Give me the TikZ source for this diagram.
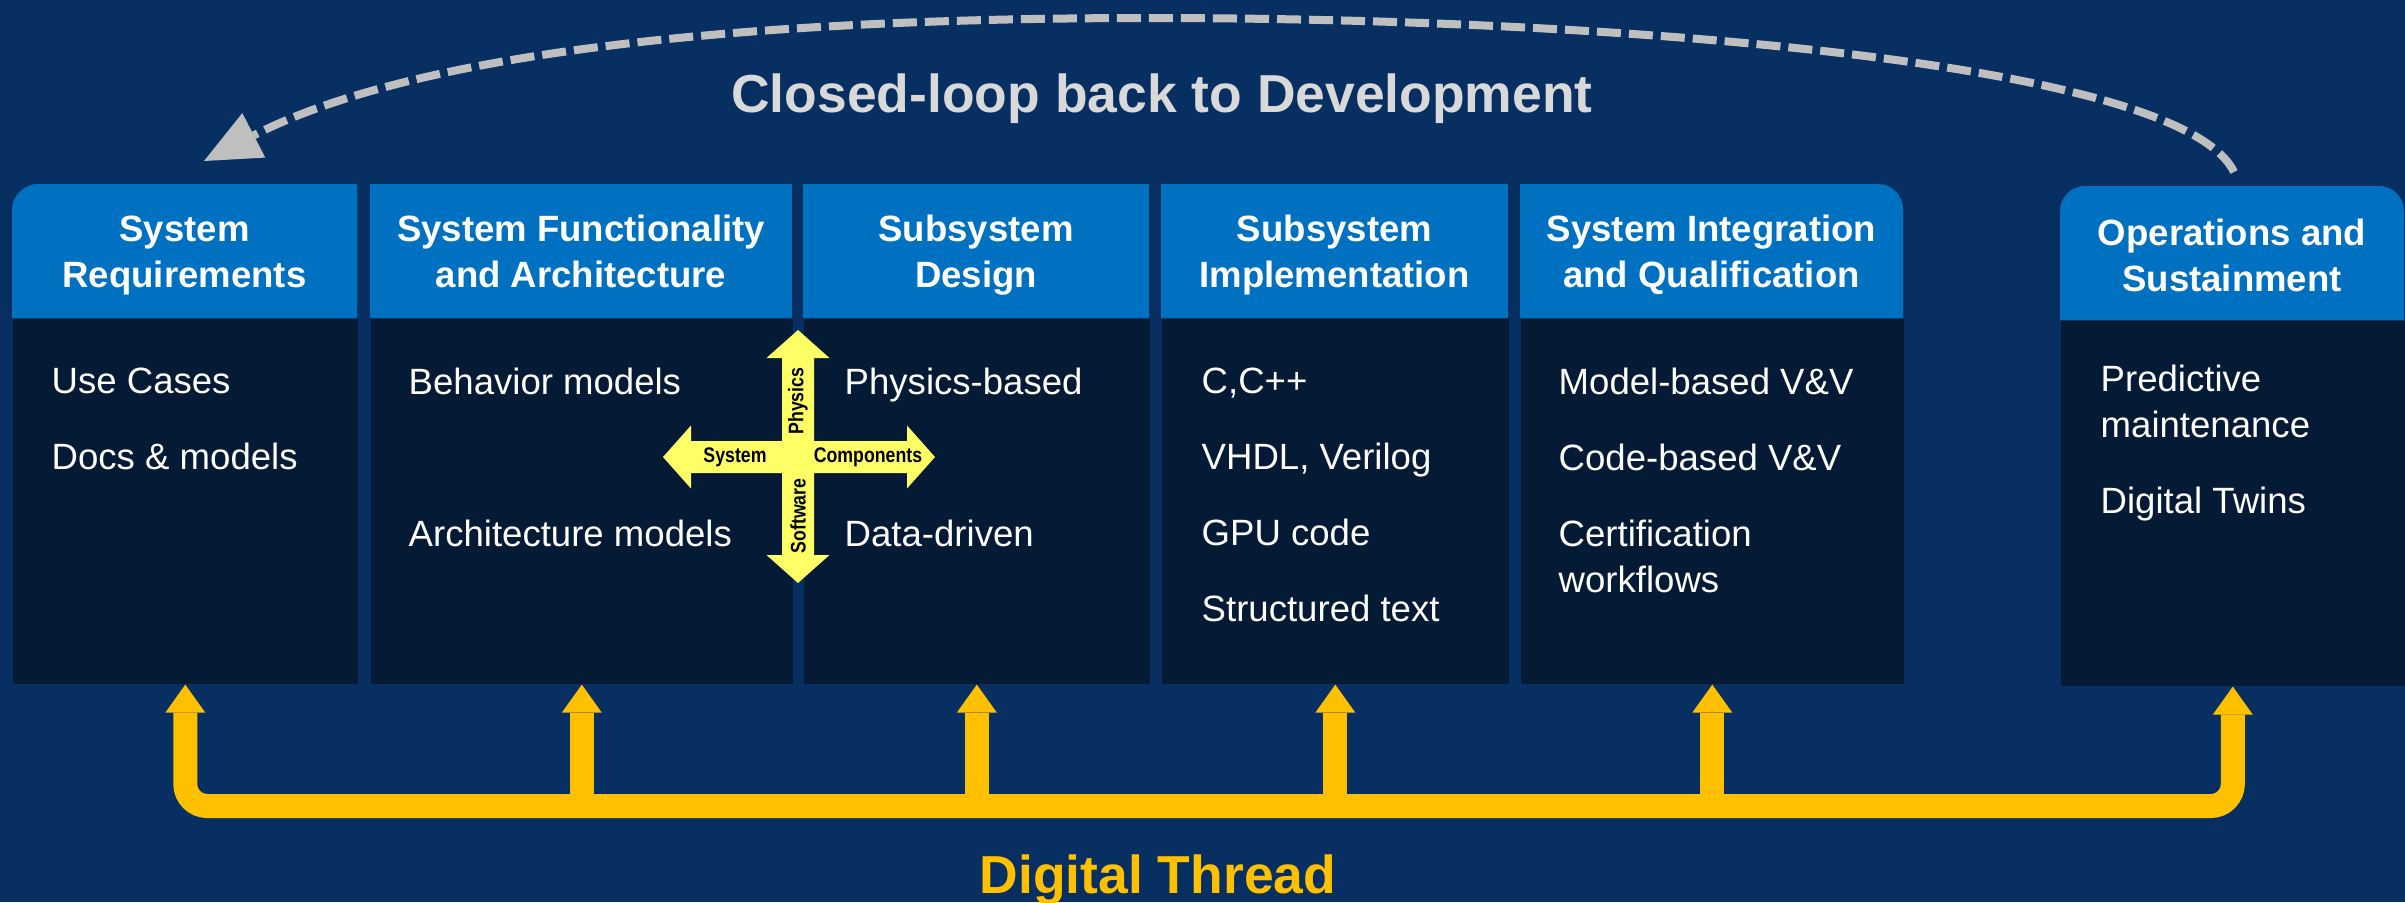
\documentclass[tikz,border=0pt]{standalone}
\usepackage{fontspec}
\setmainfont{Liberation Sans}
\usetikzlibrary{arrows.meta}
\definecolor{pagebg}{HTML}{072F62}
\definecolor{headblue}{HTML}{0070C0}
\definecolor{bodydark}{HTML}{041A35}
\definecolor{threadgold}{HTML}{FFC000}
\definecolor{loopgray}{HTML}{BFBFBF}
\definecolor{titlegray}{HTML}{D9D9D9}
\definecolor{crossyellow}{HTML}{FFFF66}
\newcommand{\narrowtxt}[1]{\scalebox{0.84}[1]{#1}}

\begin{document}
\begin{tikzpicture}[x=0.01cm,y=-0.01cm,
  body/.style={fill=bodydark,anchor=north west,inner sep=0pt,minimum height=3.65cm},
  head/.style={text=white,font=\bfseries\fontsize{10.4}{13.1}\selectfont,align=center,inner sep=0pt},
  items/.style={text=white,font=\fontsize{10.4}{13.1}\selectfont,align=left,anchor=north west,inner sep=0pt},
  tag/.style={font=\bfseries\fontsize{6}{7}\selectfont,inner sep=0pt},
  big/.style={font=\bfseries\fontsize{15.2}{18}\selectfont,anchor=base,inner sep=0pt},
  thread/.style={threadgold,line width=0.24cm},
  tip/.style={-{Triangle[length=0.28cm,width=0.40cm,line width=0pt]}},
  loop/.style={loopgray,line width=0.08cm,dash pattern=on 0.24cm off 0.08cm}]
\useasboundingbox (0,0) rectangle (2405,902);
\fill[pagebg] (0,0) rectangle (2405,902); %background

% headers
\fill[headblue] (12,318) -- (12,209) .. controls (12,195.2) and (25.8,184) .. (37,184) -- (357,184) -- (357,318) -- cycle; %box 1
\fill[headblue] (370,184) rectangle (792,318); %box 2
\fill[headblue] (803,184) rectangle (1149,318); %box 3
\fill[headblue] (1161,184) rectangle (1508,318); %box 4
\fill[headblue] (1520,318) -- (1520,184) -- (1878,184) .. controls (1891.8,184) and (1903,195.2) .. (1903,209) -- (1903,318) -- cycle; %box 5
\fill[headblue] (2060,320) -- (2060,211) .. controls (2060,197.2) and (2071.2,186) .. (2085,186) -- (2379,186) .. controls (2392.8,186) and (2404,197.2) .. (2404,211) -- (2404,320) -- cycle; %box 6

\node[head] (h1) at (184.5,255) {\strut System\\\strut Requirements};
\node[head] (h2) at (581,255) {\strut System Functionality\\\strut and Architecture};
\node[head] (h3) at (976,255) {\strut Subsystem\\\strut Design};
\node[head] (h4) at (1334.5,255) {\strut Subsystem\\\strut Implementation};
\node[head] (h5) at (1711.5,255) {\strut System Integration\\\strut and Qualification};
\node[head] (h6) at (2232,259) {\strut Operations and\\\strut Sustainment};

% bodies
\node[body,minimum width=3.45cm] (b1) at (12,318) {};
\node[body,minimum width=4.22cm] (b2) at (370,318) {};
\node[body,minimum width=3.46cm] (b3) at (803,318) {};
\node[body,minimum width=3.47cm] (b4) at (1161,318) {};
\node[body,minimum width=3.83cm] (b5) at (1520,318) {};
\node[body,minimum width=3.44cm] (b6) at (2060,320) {};

\node[items] (t1) at (51,367) {Use Cases\\[8.5pt]Docs \& models};
\node[items] (t2) at (408,367) {Behavior models\\[8.5pt]\\[8.5pt]Architecture models};
\node[items] (t3) at (844,367) {Physics-based\\[8.5pt]\\[8.5pt]Data-driven};
\node[items] (t4) at (1201,367) {C,C++\\[8.5pt]VHDL, Verilog\\[8.5pt]GPU code\\[8.5pt]Structured text};
\node[items] (t5) at (1558,367) {Model-based V\&V\\[8.5pt]Code-based V\&V\\[8.5pt]Certification\\workflows};
\node[items] (t6) at (2100,364) {Predictive\\maintenance\\[8.5pt]Digital Twins};

% cross
\fill[crossyellow] (798,330) -- (829.5,358) -- (814,358) -- (814,441) -- (907,441) -- (907,425.5) -- (935,457) -- (907,488.5) -- (907,473) -- (814,473) -- (814,555) -- (829.5,555) -- (798,583) -- (766.5,555) -- (782,555) -- (782,473) -- (691,473) -- (691,488.5) -- (663,457) -- (691,425.5) -- (691,441) -- (782,441) -- (782,358) -- (766.5,358) -- cycle; %cross
\node[tag,rotate=90] (phys) at (798,401) {\narrowtxt{Physics}};
\node[tag,rotate=90] (soft) at (798,516) {\narrowtxt{Software}};
\node[tag] (sys) at (735,457) {\narrowtxt{System}};
\node[tag] (comp) at (868,457) {\narrowtxt{Components}};

% digital thread
\coordinate (bar) at (0,806);
\draw[thread,rounded corners=0.22cm,{Triangle[length=0.28cm,width=0.40cm,line width=0pt]}-{Triangle[length=0.28cm,width=0.40cm,line width=0pt]}] (b1.south) -- (b1.south |- bar) -- (b6.south |- bar) -- (b6.south); %bar
\draw[thread,tip] (b2.south |- bar) -- (b2.south); %riser
\draw[thread,tip] (b3.south |- bar) -- (b3.south); %riser
\draw[thread,tip] (b4.south |- bar) -- (b4.south); %riser
\draw[thread,tip] (b5.south |- bar) -- (b5.south); %riser
\node[big,text=threadgold] (dt) at (1158,893) {Digital Thread};

% loop back
\coordinate (loopstart) at (2234,172);
\coordinate (looptip) at (204,161);
\draw[loop,-{Triangle[length=0.56cm,width=0.50cm,line width=0pt]}] (loopstart) .. controls (2180,60) and (1600,18) .. (1150,18) .. controls (700,18) and (400,60) .. (looptip); %dashed
\node[big,text=titlegray] (title) at (1162,112) {Closed-loop back to Development};
\end{tikzpicture}
\end{document}
